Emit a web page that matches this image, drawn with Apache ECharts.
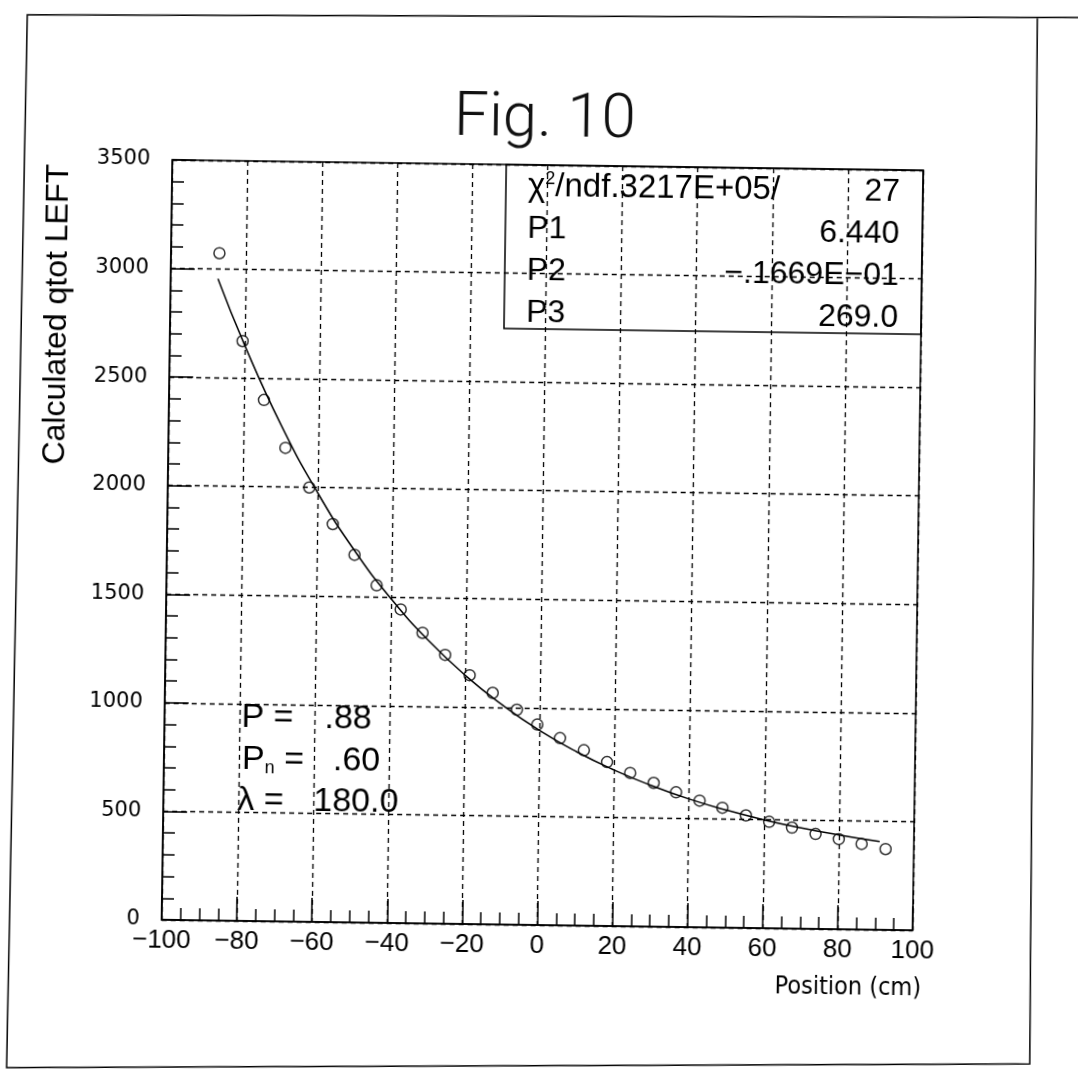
<!DOCTYPE html>
<html>
<head>
<meta charset="utf-8">
<script src="https://cdn.jsdelivr.net/npm/echarts@6/dist/echarts.min.js"></script>
<style>
html,body{margin:0;padding:0;background:#fff;overflow:hidden;width:1078px;height:1083px;}
#chart{width:1078px;height:1083px;transform:rotate(0.8deg);transform-origin:539px 541.5px;}
</style>
</head>
<body>
<div id="chart"></div>
<script>
// ---- data ----
const xTickValues = [-100, -80, -60, -40, -20, 0, 20, 40, 60, 80, 100];
const yTickValues = [0, 500, 1000, 1500, 2000, 2500, 3000, 3500];

const positions = [-87.1, -80.6, -74.7, -68.8, -62.3, -55.9, -50.0, -44.0, -37.5, -31.6,
                   -25.5, -18.9, -12.7, -6.2, -0.7, 5.4, 11.8, 18.0, 24.2, 30.5,
                   36.5, 42.8, 48.9, 55.2, 61.4, 67.5, 73.8, 80.0, 86.1, 92.5];
const qtot = [3073, 2670, 2400, 2181, 2000, 1833, 1693, 1554, 1444, 1338,
              1238, 1146, 1066, 990, 923, 862, 808, 755, 706, 662,
              620, 583, 552, 518, 490, 465, 437, 415, 394, 372];

const fitPositions = [-87.4, -80, -70, -60, -50, -40, -30, -20, -10, 0, 10, 20, 30, 40, 50, 60, 70, 80, 90.9];
const fitValues = [2955, 2650, 2285, 1975, 1712, 1491, 1303, 1144, 1010, 895, 799, 718, 649, 590, 541, 499, 464, 434, 406];

const chi2Text = '.3217E+05';
const ndfText = '27';
const statNames = ['P1', 'P2', 'P3'];
const statValues = ['6.440', '\u2212.1669E\u221201', '269.0'];

const paramValues = ['.88', '.60', '180.0'];

// ---- chart ----
const FONT = "'Liberation Sans', Arial, sans-serif";
const NARROW = "'Liberation Sans Narrow', 'DejaVu Sans Condensed', 'Liberation Sans', sans-serif";
const WIDE = "'DejaVu Sans', sans-serif";
const dash = [5, 4];

const scatterData = positions.map((x, i) => [x, qtot[i]]);
const fitData = fitPositions.map((x, i) => [x, fitValues[i]]);
const fmtNum = v => (v < 0 ? '\u2212' + Math.abs(v) : String(v));

const txt = (x, y, text, extra) => ({
  type: 'text', x: x, y: y, z: 50,
  style: Object.assign({text: text, fontFamily: FONT, fontSize: 32, fill: '#000', verticalAlign: 'middle'}, extra || {})
});

const rowY = [187, 229, 271, 313];
const graphics = [
  // page frame
  {type: 'polyline', z: 40, shape: {points: [[1078, 10], [20, 22], [14, 1075], [1037, 1057], [1030, 10]]},
   style: {stroke: '#000', lineWidth: 1.5, fill: null}},
  // stats box
  {type: 'rect', z: 40, shape: {x: 501, y: 165, width: 417, height: 164},
   style: {fill: null, stroke: '#000', lineWidth: 1.5}},
  txt(523, rowY[0], '{a|\u03C7}{s|2}{a|/ndf' + chi2Text + '/}', {
    rich: {a: {fontFamily: FONT, fontSize: 33, fill: '#000'},
           s: {fontFamily: FONT, fontSize: 18, fill: '#000', verticalAlign: 'top'}}
  }),
  txt(895, rowY[0], ndfText, {align: 'right'})
];
statNames.forEach((n, i) => {
  graphics.push(txt(523, rowY[i + 1], n));
  graphics.push(txt(895, rowY[i + 1], statValues[i], {align: 'right'}));
});
// P, Pn, lambda annotations
const annY = [722, 764, 805];
graphics.push(txt(244, annY[0], 'P =', {fontSize: 34}));
graphics.push(txt(245, annY[1], '{a|P}{n|n}{a| =}', {
  rich: {a: {fontFamily: FONT, fontSize: 34, fill: '#000'},
         n: {fontFamily: FONT, fontSize: 18, fill: '#000', verticalAlign: 'bottom'}}
}));
graphics.push(txt(241, annY[2], '\u03BB =', {fontSize: 34}));
graphics.push(txt(327, annY[0], paramValues[0], {fontSize: 34}));
graphics.push(txt(336, annY[1], paramValues[1], {fontSize: 34}));
graphics.push(txt(317, annY[2], paramValues[2], {fontSize: 34}));

const chart = echarts.init(document.getElementById('chart'), null, {renderer: 'canvas'});
chart.setOption({
  animation: false,
  backgroundColor: '#fff',
  title: {
    text: 'Fig. 10', left: 'center', top: 84,
    textStyle: {fontFamily: "Roboto, 'Liberation Sans', sans-serif", fontWeight: 300, fontSize: 62, color: '#111'}
  },
  grid: {left: 167, right: 160, top: 165, bottom: 158, show: true, borderColor: '#000', borderWidth: 1.5, backgroundColor: 'transparent'},
  xAxis: {
    type: 'value',
    min: xTickValues[0], max: xTickValues[xTickValues.length - 1], interval: xTickValues[1] - xTickValues[0],
    axisLine: {show: true, onZero: false, lineStyle: {color: '#000', width: 1.5}},
    axisTick: {show: true, inside: true, length: 24, lineStyle: {color: '#000', width: 1.5}},
    minorTick: {show: true, splitNumber: 4, length: 12, lineStyle: {color: '#000', width: 1.5}},
    splitLine: {show: true, lineStyle: {color: '#000', width: 1.3, type: dash}},
    axisLabel: {margin: 8, fontFamily: FONT, fontSize: 26, color: '#000', formatter: fmtNum},
    name: 'Position (cm)', nameLocation: 'middle', nameGap: 46,
    nameTextStyle: {fontFamily: NARROW, fontSize: 25, color: '#000', padding: [0, 0, 0, 623]}
  },
  yAxis: {
    type: 'value',
    min: yTickValues[0], max: yTickValues[yTickValues.length - 1], interval: yTickValues[1] - yTickValues[0],
    axisLine: {show: true, onZero: false, lineStyle: {color: '#000', width: 1.5}},
    axisTick: {show: true, inside: true, length: 24, lineStyle: {color: '#000', width: 1.5}},
    minorTick: {show: true, splitNumber: 5, length: 12, lineStyle: {color: '#000', width: 1.5}},
    splitLine: {show: true, lineStyle: {color: '#000', width: 1.3, type: dash}},
    axisLabel: {margin: 22, fontFamily: WIDE, fontSize: 21, color: '#000', formatter: v => String(v)},
    name: 'Calculated qtot LEFT', nameLocation: 'middle', nameGap: 97, nameRotate: 90,
    nameTextStyle: {fontFamily: FONT, fontSize: 32, color: '#000', padding: [0, 0, 0, 448]}
  },
  series: [
    {type: 'line', data: fitData, smooth: true, symbol: 'none', showSymbol: false,
     lineStyle: {color: '#000', width: 1.5}, z: 3, silent: true},
    {type: 'scatter', data: scatterData, symbol: 'circle', symbolSize: 11,
     itemStyle: {color: 'rgba(0,0,0,0)', borderColor: '#000', borderWidth: 1.5}, z: 4, silent: true}
  ],
  graphic: graphics
});
</script>
</body>
</html>
